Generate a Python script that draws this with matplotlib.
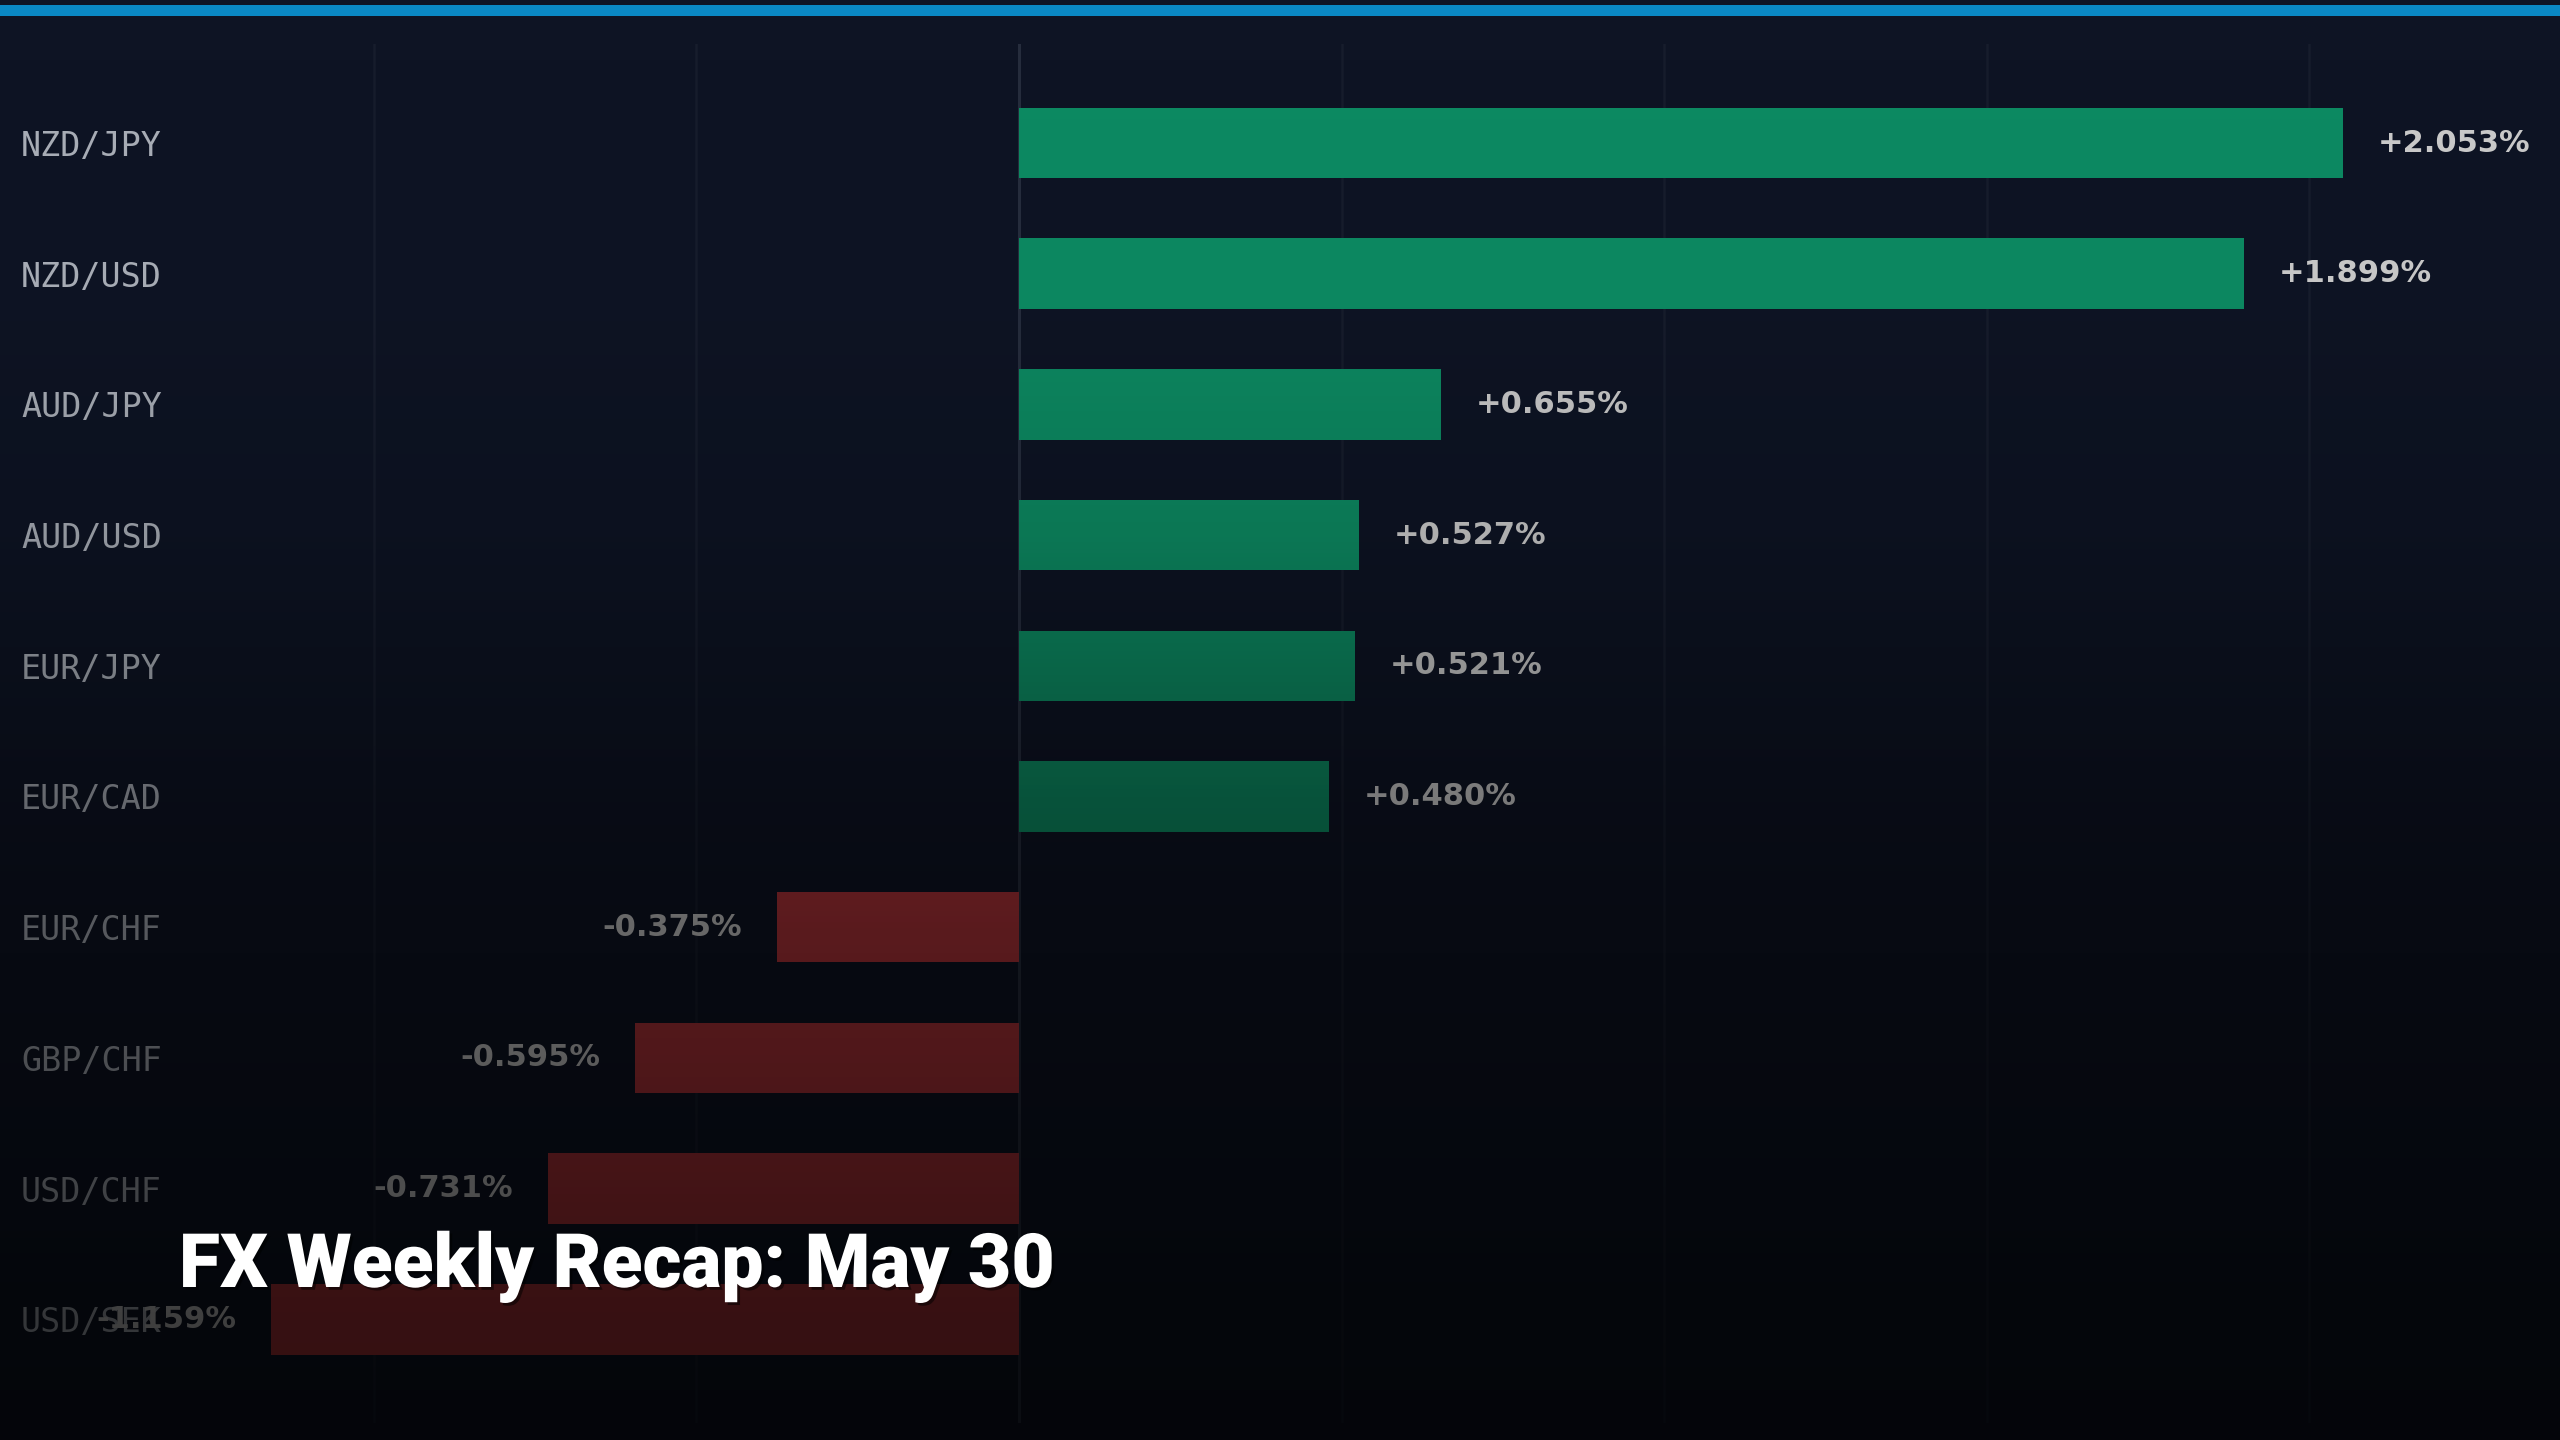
import numpy as np
import matplotlib
matplotlib.use("Agg")
import matplotlib.pyplot as plt
import matplotlib.transforms as mtransforms
import matplotlib.patheffects as pe
from matplotlib.patches import Rectangle

# weekly % change per pair
pairs = ["NZD/JPY", "NZD/USD", "AUD/JPY", "AUD/USD", "EUR/JPY",
         "EUR/CAD", "EUR/CHF", "GBP/CHF", "USD/CHF", "USD/SEK"]
changes = [2.053, 1.899, 0.655, 0.527, 0.521, 0.480, -0.375, -0.595, -0.731, -1.159]
grid_ticks = [-1.0, -0.5, 0.0, 0.5, 1.0, 1.5, 2.0]
title = "FX Weekly Recap: May 30"

bg = "#0e1424"
up_col = "#0d8a62"
down_col = "#b0343a"

W, H = 2560, 1440
fig = plt.figure(figsize=(25.6, 14.4), dpi=100)
fig.patch.set_facecolor(bg)

# main chart axes, spans the whole width
top_px, bot_px = 44, 1423
ax = fig.add_axes([0, (H - bot_px) / H, 1, (bot_px - top_px) / H])
ax.set_facecolor("none")
zero_px, px_per = 1019, 645.0
ax.set_xlim(-zero_px / px_per, (W - zero_px) / px_per)
row = 130.7
ax.set_ylim((bot_px - 143) / row, (top_px - 143) / row)
for s in ax.spines.values():
    s.set_visible(False)
ax.set_xticks([])
ax.set_yticks([])

for g in grid_ticks:
    if g == 0:
        ax.axvline(g, color="#262d3d", lw=2.2, zorder=1)
    else:
        ax.axvline(g, color="#171d2c", lw=1.8, zorder=0)

ypos = np.arange(len(pairs))
colors = [up_col if v >= 0 else down_col for v in changes]
ax.barh(ypos, changes, height=0.54, color=colors, zorder=2)

trans = mtransforms.blended_transform_factory(ax.transAxes, ax.transData)
for i, (p, v) in enumerate(zip(pairs, changes)):
    ax.text(21 / W, i, p, transform=trans, ha="left", va="center_baseline",
            family="DejaVu Sans Mono", fontsize=24, color="#a9aeb7", zorder=3)
    off = 25 if v >= 0 else -25
    ax.annotate(f"{v:+.3f}%", (v, i), xytext=(off, 0), textcoords="offset points",
                ha="left" if v >= 0 else "right", va="center",
                fontsize=22, fontweight="bold", color="#cacaca", zorder=3)

# dark fade toward the bottom
ov = fig.add_axes([0, 0, 1, 1], zorder=1)
ov.set_axis_off()
yy = np.linspace(0, H, 400)
alpha = np.interp(yy, [0, 300, 405, 536, 666, 797, 928, 1058, 1189, 1320, 1440],
                  [0, 0.02, 0.08, 0.14, 0.27, 0.40, 0.49, 0.55, 0.62, 0.69, 0.71])
img = np.zeros((len(yy), 1, 4))
img[:, 0, 3] = alpha
ov.imshow(img, extent=[0, 1, 0, 1], aspect="auto", origin="upper",
          interpolation="bilinear")
ov.set_xlim(0, 1)
ov.set_ylim(0, 1)

# top accent band
fig.add_artist(Rectangle((0, (H - 16) / H), 1, 11 / H, transform=fig.transFigure,
                         facecolor="#0a88c4", edgecolor="none", zorder=5))

fig.text(179 / W, (H - 1287) / H, title, ha="left", va="baseline",
         family=["Roboto", "DejaVu Sans"], fontweight="black", fontsize=54,
         color="white", zorder=6,
         path_effects=[pe.withSimplePatchShadow(offset=(2, -2), shadow_rgbFace="black",
                                                alpha=0.5)])

fig.savefig("out.png", dpi=100, facecolor=fig.get_facecolor())
